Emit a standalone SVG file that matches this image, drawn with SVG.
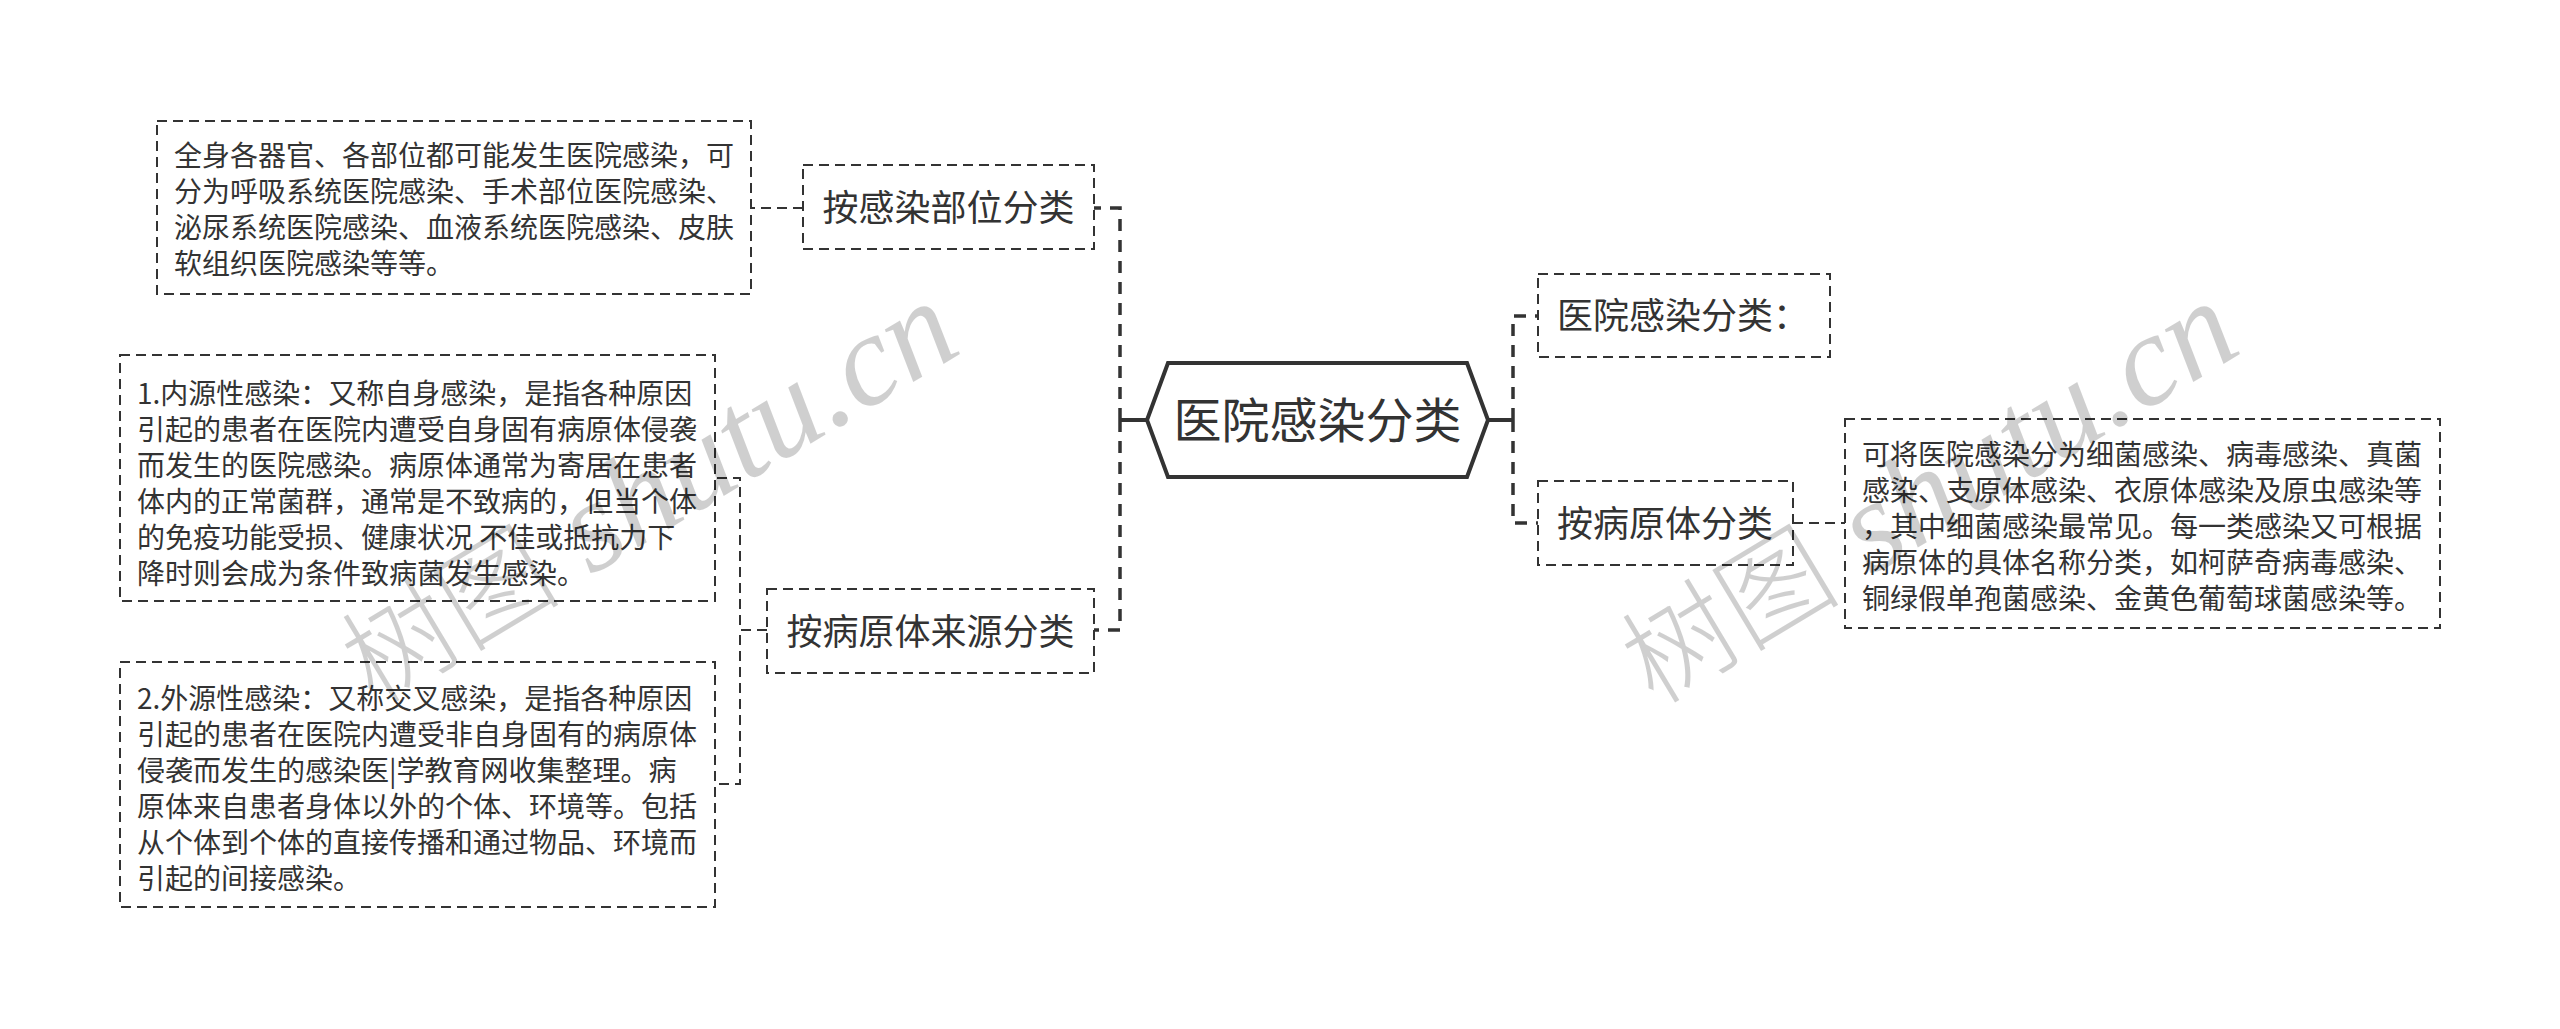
<svg xmlns="http://www.w3.org/2000/svg" width="2560" height="1029" viewBox="0 0 2560 1029">
<style>
.box{fill:#fff;stroke:#333;stroke-width:2;stroke-dasharray:10 6}
.t{font-family:"Noto Sans CJK SC","Noto Sans",sans-serif;fill:#333}
.s{font-size:28px}
.m{font-size:36px}
.c{font-size:48px}
.main{fill:none;stroke:#333;stroke-width:3.5;stroke-dasharray:12 9}
.sub{fill:none;stroke:#333;stroke-width:2;stroke-dasharray:10 6}
.solid{fill:none;stroke:#333;stroke-width:4}
.wm{fill:#000;fill-opacity:0.19}
.wc{font-family:"Noto Sans CJK SC",sans-serif;font-size:110px;font-weight:300}
.wl{font-family:"Liberation Serif",serif;font-style:italic;font-size:130px}
</style>
<rect width="2560" height="1029" fill="#fff"/>
<g id="connectors">
<path class="solid" d="M1147,420 H1120"/>
<path class="solid" d="M1488,420 H1513"/>
<path class="main" d="M1120,420 V208 H1094"/>
<path class="main" d="M1120,420 V630 H1094"/>
<path class="main" d="M1513,420 V316 H1538"/>
<path class="main" d="M1513,420 V523 H1538"/>
<path class="sub" d="M803,208 H751"/>
<path class="sub" d="M767,630 H740 V478 H715"/>
<path class="sub" d="M767,630 H740 V784 H715"/>
<path class="sub" d="M1793,523 H1845"/>
</g>
<g id="center">
<polygon points="1147,420 1168,363 1467,363 1488,420 1467,477 1168,477" fill="#fff" stroke="#333" stroke-width="4"/>
<text class="t c" x="1317.5" y="438" text-anchor="middle">医院感染分类</text>
</g>
<g id="node-site">
<rect class="box" x="803" y="165" width="291" height="84"/>
<text class="t m" x="948.5" y="221" text-anchor="middle">按感染部位分类</text>
</g>
<g id="box-site">
<rect class="box" x="157" y="121" width="594" height="173"/>
<text class="t s" x="174" y="166">全身各器官、各部位都可能发生医院感染，可</text>
<text class="t s" x="174" y="202">分为呼吸系统医院感染、手术部位医院感染、</text>
<text class="t s" x="174" y="238">泌尿系统医院感染、血液系统医院感染、皮肤</text>
<text class="t s" x="174" y="274">软组织医院感染等等。</text>
</g>
<g id="node-source">
<rect class="box" x="767" y="589" width="327" height="84"/>
<text class="t m" x="930.5" y="645" text-anchor="middle">按病原体来源分类</text>
</g>
<g id="box-endogenous">
<rect class="box" x="120" y="355" width="595" height="246"/>
<text class="t s" x="137" y="404">1.内源性感染：又称自身感染，是指各种原因</text>
<text class="t s" x="137" y="440">引起的患者在医院内遭受自身固有病原体侵袭</text>
<text class="t s" x="137" y="476">而发生的医院感染。病原体通常为寄居在患者</text>
<text class="t s" x="137" y="512">体内的正常菌群，通常是不致病的，但当个体</text>
<text class="t s" x="137" y="548">的免疫功能受损、健康状况 不佳或抵抗力下</text>
<text class="t s" x="137" y="584">降时则会成为条件致病菌发生感染。</text>
</g>
<g id="box-exogenous">
<rect class="box" x="120" y="662" width="595" height="245"/>
<text class="t s" x="137" y="709">2.外源性感染：又称交叉感染，是指各种原因</text>
<text class="t s" x="137" y="745">引起的患者在医院内遭受非自身固有的病原体</text>
<text class="t s" x="137" y="781">侵袭而发生的感染医|学教育网收集整理。病</text>
<text class="t s" x="137" y="817">原体来自患者身体以外的个体、环境等。包括</text>
<text class="t s" x="137" y="853">从个体到个体的直接传播和通过物品、环境而</text>
<text class="t s" x="137" y="889">引起的间接感染。</text>
</g>
<g id="node-classify">
<rect class="box" x="1538" y="274" width="292" height="83"/>
<text class="t m" x="1557" y="329">医院感染分类：</text>
</g>
<g id="node-pathogen">
<rect class="box" x="1538" y="481" width="255" height="84"/>
<text class="t m" x="1557" y="537">按病原体分类</text>
</g>
<g id="box-pathogen">
<rect class="box" x="1845" y="419" width="595" height="209"/>
<text class="t s" x="1862" y="465">可将医院感染分为细菌感染、病毒感染、真菌</text>
<text class="t s" x="1862" y="501">感染、支原体感染、衣原体感染及原虫感染等</text>
<text class="t s" x="1862" y="537">，其中细菌感染最常见。每一类感染又可根据</text>
<text class="t s" x="1862" y="573">病原体的具体名称分类，如柯萨奇病毒感染、</text>
<text class="t s" x="1862" y="609">铜绿假单孢菌感染、金黄色葡萄球菌感染等。</text>
</g>
<g id="watermark">
<text class="wm" transform="translate(374,706) rotate(-31)"><tspan class="wc">树图</tspan><tspan class="wl"> shutu.cn</tspan></text>
<text class="wm" transform="translate(1654,706) rotate(-31)"><tspan class="wc">树图</tspan><tspan class="wl"> shutu.cn</tspan></text>
</g>
</svg>
